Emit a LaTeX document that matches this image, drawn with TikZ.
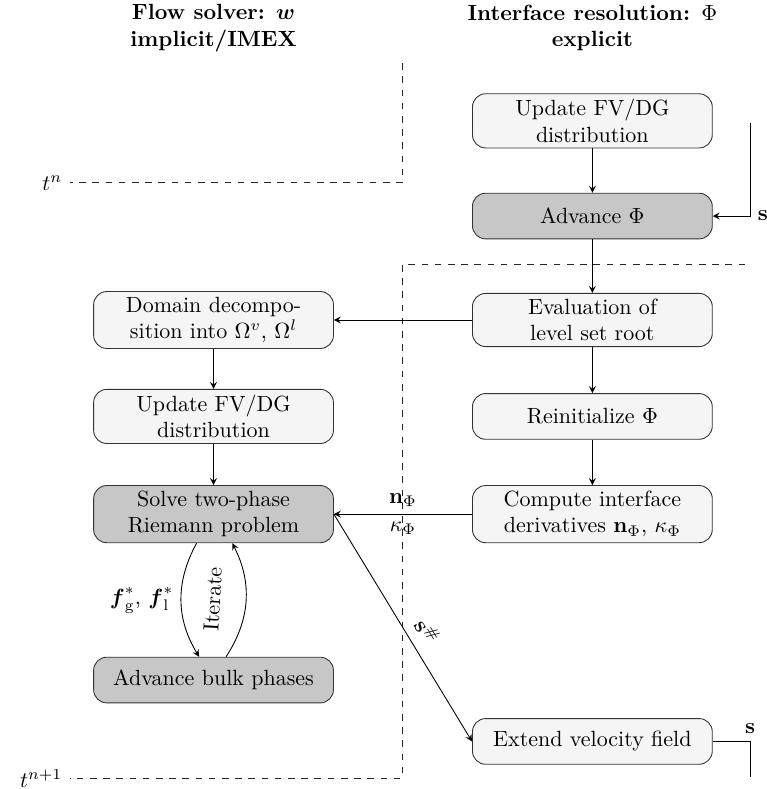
\documentclass[tikz,border=0pt]{standalone}
\usepackage{amsmath}
\usetikzlibrary{arrows}
\begin{document}
\begin{tikzpicture}[>=stealth,
    stepbox/.style={draw=black!80, rounded corners=6pt, fill=black!4, minimum width=3.83cm,
      minimum height=0.73cm, align=center, inner ysep=2.5pt},
    darkbox/.style={stepbox, fill=black!22},
    timeline/.style={dashed, black!85}]
  \useasboundingbox (0,0) rectangle (12.24,-12.6);
  % column heads
  \node[align=center, font=\bfseries] (hflow) at (3.41,-0.45) {Flow solver: $\boldsymbol{w}$\\implicit/IMEX};
  \node[align=center, font=\bfseries] (hiface) at (9.46,-0.45) {Interface resolution: $\Phi$\\explicit};
  % interface resolution
  \node[stepbox] (updr) at (9.46,-1.93) {Update FV/DG\\distribution};
  \node[darkbox] (adv) at (9.46,-3.45) {Advance $\Phi$};
  \node[stepbox] (eval) at (9.46,-5.11) {Evaluation of\\level set root};
  \node[stepbox] (reinit) at (9.46,-6.65) {Reinitialize $\Phi$};
  \node[stepbox] (deriv) at (9.46,-8.21) {Compute interface\\derivatives $\mathbf{n}_\Phi$, $\kappa_\Phi$};
  \node[stepbox] (ext) at (9.46,-11.84) {Extend velocity field};
  % flow solver
  \node[stepbox] (dom) at (3.41,-5.11) {Domain decompo-\\sition into $\Omega^v$, $\Omega^l$};
  \node[stepbox] (updl) at (3.41,-6.65) {Update FV/DG\\distribution};
  \node[darkbox] (solve) at (3.41,-8.21) {Solve two-phase\\Riemann problem};
  \node[darkbox] (bulk) at (3.41,-10.86) {Advance bulk phases};
  % time levels
  \draw[timeline] (6.42,-1.01) -- (6.42,-2.92) -- (1.12,-2.92) node[left, black] {$t^n$};
  \draw[timeline] (11.90,-4.23) -- (6.42,-4.23) -- (6.42,-12.43) -- (1.12,-12.43) node[left, black] {$t^{n+1}$};
  % arrows
  \draw[->] (updr) -- (adv);
  \draw[->] (adv) -- (eval);
  \draw[->] (eval) -- (dom);
  \draw[->] (eval) -- (reinit);
  \draw[->] (reinit) -- (deriv);
  \draw[->] (deriv) -- node[above] {$\mathbf{n}_\Phi$} node[below] {$\kappa_\Phi$} (solve);
  \draw[->] (dom) -- (updl);
  \draw[->] (updl) -- (solve);
  \draw[->] ([xshift=-0.27cm]solve.south) to[bend right=30]
    node[left] {$\boldsymbol{f}^*_{\mathrm{g}}$, $\boldsymbol{f}^*_{\mathrm{l}}$} ([xshift=-0.23cm]bulk.north);
  \draw[->] ([xshift=0.2cm]bulk.north) to[bend right=30]
    node[sloped, above=8pt] {Iterate} ([xshift=0.3cm]solve.south);
  \draw[->] (solve.east) -- node[pos=0.56, sloped, above=1pt] {$\mathbf{s}^\#$} (ext.west);
  % velocity feedback
  \coordinate (stop) at (11.98,-1.96);
  \coordinate (sbot) at (11.98,-12.41);
  \draw[->] (stop) |- node[pos=0.5, right] {$\mathbf{s}$} (adv.east);
  \draw (ext.east) -| node[pos=0.5, above] {$\mathbf{s}$} (sbot);
\end{tikzpicture}
\end{document}
